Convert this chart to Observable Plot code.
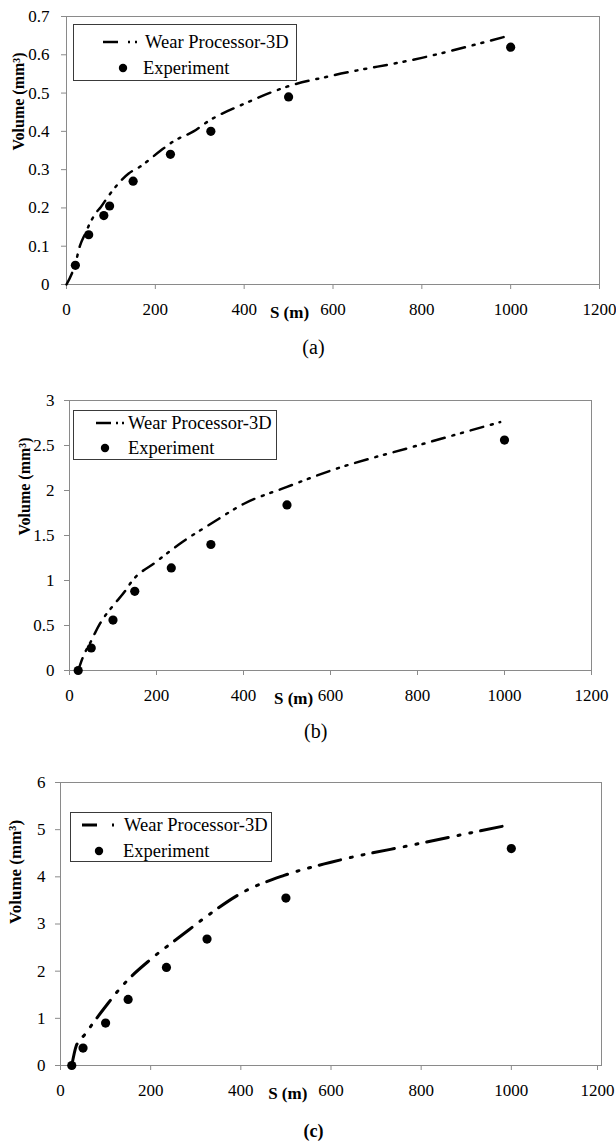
<!DOCTYPE html>
<html>
<head>
<meta charset="utf-8">
<script src="https://cdn.jsdelivr.net/npm/d3@7"></script>
<script src="https://cdn.jsdelivr.net/npm/@observablehq/plot@0.6"></script>
<style>
html, body { margin: 0; padding: 0; background: #fff; }
#page { position: relative; width: 616px; height: 1146px; overflow: hidden; background: #fff; }
.panel { position: absolute; left: 0; }
.legend { position: absolute; }
</style>
</head>
<body>
<div id="page"></div>
<script>
// ---------- data ----------
const xTicks = [0, 200, 400, 600, 800, 1000, 1200];
const yTicksA = [0, 0.1, 0.2, 0.3, 0.4, 0.5, 0.6, 0.7];
const yTicksB = [0, 0.5, 1, 1.5, 2, 2.5, 3];
const yTicksC = [0, 1, 2, 3, 4, 5, 6];

const seriesNames = ["Wear Processor-3D", "Experiment"];
const xLabel = "S (m)";
const yLabel = "Volume (mm\u00B3)";
const panelTags = ["(a)", "(b)", "(c)"];

// (a)
const simSA = [0, 20, 30, 43, 54, 65, 77, 95, 140, 166, 210, 241, 286, 320, 400, 500, 600, 800, 990];
const simVA = [0, 0.055, 0.10, 0.135, 0.163, 0.185, 0.202, 0.232, 0.29, 0.308, 0.348, 0.374, 0.400, 0.427, 0.472, 0.518, 0.546, 0.592, 0.648];
const expSA = [20, 50, 84, 97, 150, 234, 325, 500, 1000];
const expVA = [0.05, 0.13, 0.18, 0.205, 0.27, 0.34, 0.40, 0.49, 0.62];

// (b)
const simSB = [20, 31, 50, 58, 70, 100, 129, 140, 200, 257, 325, 400, 500, 600, 800, 990];
const simVB = [0, 0.15, 0.33, 0.41, 0.52, 0.72, 0.89, 0.97, 1.21, 1.42, 1.63, 1.85, 2.04, 2.22, 2.50, 2.76];
const expSB = [20, 50, 100, 150, 234, 325, 500, 1000];
const expVB = [0, 0.25, 0.56, 0.88, 1.14, 1.40, 1.84, 2.56];

// (c)
const simSC = [25, 35, 40, 55, 70, 100, 129, 150, 200, 269, 321, 404, 496, 600, 793, 990];
const simVC = [0, 0.42, 0.50, 0.67, 0.87, 1.25, 1.60, 1.82, 2.25, 2.76, 3.14, 3.67, 4.03, 4.31, 4.70, 5.09];
const expSC = [25, 50, 100, 150, 235, 325, 500, 1000];
const expVC = [0, 0.37, 0.90, 1.40, 2.08, 2.68, 3.55, 4.60];

// ---------- drawing ----------
const FONT = "'Liberation Serif', 'Times New Roman', Times, serif";
const GRAY = "#8a8a8a";
const page = document.getElementById("page");

function zip(s, v) { return s.map((x, i) => ({s: x, v: v[i]})); }

function panel(cfg) {
  const sim = zip(cfg.simS, cfg.simV);
  const exp = zip(cfg.expS, cfg.expV);
  const lastTick = xTicks[xTicks.length - 1];
  const innerTicks = xTicks.slice(0, -1);
  const chart = Plot.plot({
    width: 616,
    height: cfg.height,
    marginLeft: cfg.mL,
    marginRight: cfg.mR,
    marginTop: cfg.mT,
    marginBottom: cfg.mB,
    style: {fontFamily: FONT, fontSize: "17px", color: "black", background: "transparent", overflow: "visible"},
    x: {domain: [0, 1200]},
    y: {domain: [0, cfg.yMax]},
    marks: [
      Plot.frame({stroke: GRAY, strokeWidth: 1}),
      Plot.axisX({ticks: innerTicks, tickSize: 5, tickPadding: 13, tickFormat: d => String(d), stroke: GRAY, fill: "black", label: null}),
      Plot.axisX({ticks: [lastTick], tickSize: 5, tickPadding: 13, tickFormat: d => String(d), stroke: GRAY, fill: "black", label: null, dx: cfg.lastDx}),
      Plot.axisY({ticks: cfg.yTicks, tickSize: 5, tickPadding: cfg.yPad, tickFormat: d => String(d), stroke: GRAY, fill: "black", label: null}),
      Plot.line(sim, {x: "s", y: "v", stroke: "black", strokeWidth: cfg.sw, strokeDasharray: cfg.dash, curve: "monotone-x"}),
      Plot.dot(exp, {x: "s", y: "v", r: 4.6, fill: "black", stroke: "none"}),
      Plot.text([yLabel], {y: () => cfg.yMax / 2, frameAnchor: "left", dx: cfg.yLabelDx, rotate: -90, fontWeight: "bold", fontSize: cfg.yLabelSize}),
      Plot.text([xLabel], {x: () => cfg.sLabelX, frameAnchor: "bottom", dy: 33, fontWeight: "bold", fontSize: 17}),
      Plot.text([cfg.tag], {x: () => cfg.tagX, frameAnchor: "bottom", dy: cfg.tagDy, fontSize: cfg.tagSize, fontWeight: cfg.tagBold ? "bold" : "normal"})
    ]
  });
  chart.classList.add("panel");
  chart.style.top = cfg.top + "px";
  page.appendChild(chart);
}

function legend(cfg) {
  const svg = d3.create("svg")
    .attr("class", "legend")
    .attr("width", cfg.w + 2)
    .attr("height", cfg.h + 2)
    .style("left", (cfg.x - 1) + "px")
    .style("top", (cfg.y - 1) + "px");
  const g = svg.append("g").attr("transform", `translate(${1 - cfg.x},${1 - cfg.y})`);
  g.append("rect").attr("x", cfg.x + 0.5).attr("y", cfg.y + 0.5).attr("width", cfg.w - 1).attr("height", cfg.h - 1)
    .attr("fill", "white").attr("stroke", "#3a3a3a").attr("stroke-width", 1);
  g.append("line").attr("x1", cfg.dash[0]).attr("x2", cfg.dash[1]).attr("y1", cfg.r1).attr("y2", cfg.r1)
    .attr("stroke", "black").attr("stroke-width", cfg.sw);
  cfg.dots.forEach(dx => {
    g.append("rect").attr("x", dx - 1).attr("y", cfg.r1 - cfg.sw / 2).attr("width", 2).attr("height", cfg.sw).attr("fill", "black");
  });
  g.append("circle").attr("cx", cfg.dotX).attr("cy", cfg.r2).attr("r", 4.2).attr("fill", "black");
  g.append("text").attr("x", cfg.t1).attr("y", cfg.r1).attr("dominant-baseline", "central")
    .style("font-family", FONT).style("font-size", "18.5px").attr("fill", "black").text(seriesNames[0]);
  g.append("text").attr("x", cfg.t2).attr("y", cfg.r2).attr("dominant-baseline", "central")
    .style("font-family", FONT).style("font-size", "18.5px").attr("fill", "black").text(seriesNames[1]);
  page.appendChild(svg.node());
}

panel({top: 0, height: 375, mL: 66, mR: 17, mT: 16, mB: 91, yMax: 0.7, yTicks: yTicksA, yPad: 12, lastDx: 0,
  simS: simSA, simV: simVA, expS: expSA, expV: expVA, sw: 2.5, dash: "13,8,2,7,2,8",
  yLabelDx: -48, yLabelSize: 16, sLabelX: 502, tag: panelTags[0], tagX: 556, tagDy: 69, tagSize: 20, tagBold: false});

panel({top: 375, height: 385, mL: 69, mR: 25, mT: 25, mB: 90, yMax: 3, yTicks: yTicksB, yPad: 10, lastDx: 0,
  simS: simSB, simV: simVB, expS: expSB, expV: expVB, sw: 2.5, dash: "13,8,2,7,2,8",
  yLabelDx: -45, yLabelSize: 16, sLabelX: 515, tag: panelTags[1], tagX: 566, tagDy: 67, tagSize: 20, tagBold: false});

panel({top: 760, height: 386, mL: 60, mR: 15, mT: 22, mB: 81, yMax: 6, yTicks: yTicksC, yPad: 10, lastDx: -4,
  simS: simSC, simV: simVC, expS: expSC, expV: expVC, sw: 3, dash: "22,10,2,10,2,9",
  yLabelDx: -45, yLabelSize: 17, sLabelX: 504, tag: panelTags[2], tagX: 561, tagDy: 71, tagSize: 18, tagBold: true});

legend({x: 73, y: 24, w: 224, h: 57, r1: 42, r2: 68, dash: [103, 118], dots: [129, 136], t1: 145, dotX: 123, t2: 143, sw: 2.5});
legend({x: 73, y: 410, w: 204, h: 50, r1: 423, r2: 448, dash: [96, 111], dots: [117, 123], t1: 128, dotX: 105, t2: 128, sw: 2.5});
legend({x: 70, y: 812, w: 202, h: 50, r1: 825, r2: 851, dash: [82, 97], dots: [113], t1: 124, dotX: 99, t2: 123, sw: 3});
</script>
</body>
</html>
